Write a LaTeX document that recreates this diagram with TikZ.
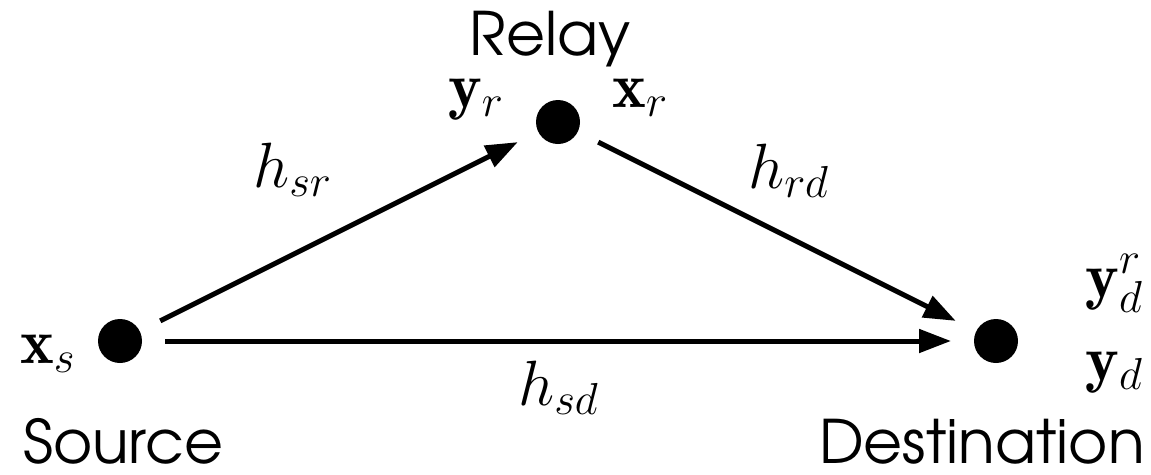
\RequirePackage{fix-cm}
\documentclass[tikz,border=0pt]{standalone}
\usepackage{fontspec}
\newfontfamily\agfont{texgyreadventor-regular.otf}
\usetikzlibrary{arrows.meta}
\begin{document}
\begin{tikzpicture}[x=1pt,y=-1pt,
  dot/.style={circle,fill=black,inner sep=0pt,minimum size=44pt,outer sep=23pt},
  link/.style={line width=5pt,-{Triangle[length=32pt,width=23pt]}},
  mlab/.style={inner sep=0pt,anchor=base west,font=\fontsize{64}{68}\selectfont},
  tlab/.style={inner sep=0pt,font=\agfont\fontsize{60}{66}\selectfont}]
\useasboundingbox (0,0) rectangle (1151,474);
\node[dot] (S) at (120,341) {};
\node[dot] (R) at (558,122) {};
\node[dot] (D) at (996,341) {};
\draw[link] (S) -- (R);
\draw[link] (R) -- (D);
\draw[link] (S) -- (D);
\node[mlab] (xs) at (20,363) {$\mathbf{x}_s$};
\node[mlab] (yr) at (448,107) {$\mathbf{y}_r$};
\node[mlab] (xr) at (612,107) {$\mathbf{x}_r$};
\node[mlab] (hsr) at (253,187) {$h_{sr}$};
\node[mlab] (hrd) at (748,188) {$h_{rd}$};
\node[mlab] (hsd) at (518,405) {$h_{sd}$};
\node[mlab] (ydr) at (1085,297) {$\mathbf{y}_d^r$};
\node[mlab] (yd) at (1085,380) {$\mathbf{y}_d$};
\node[tlab,anchor=base] (relay) at (550,55) {Relay};
\node[tlab,anchor=base west] (source) at (23,463) {Source};
\node[tlab,anchor=base east] (dest) at (1145,463) {Destination};
\end{tikzpicture}
\end{document}
